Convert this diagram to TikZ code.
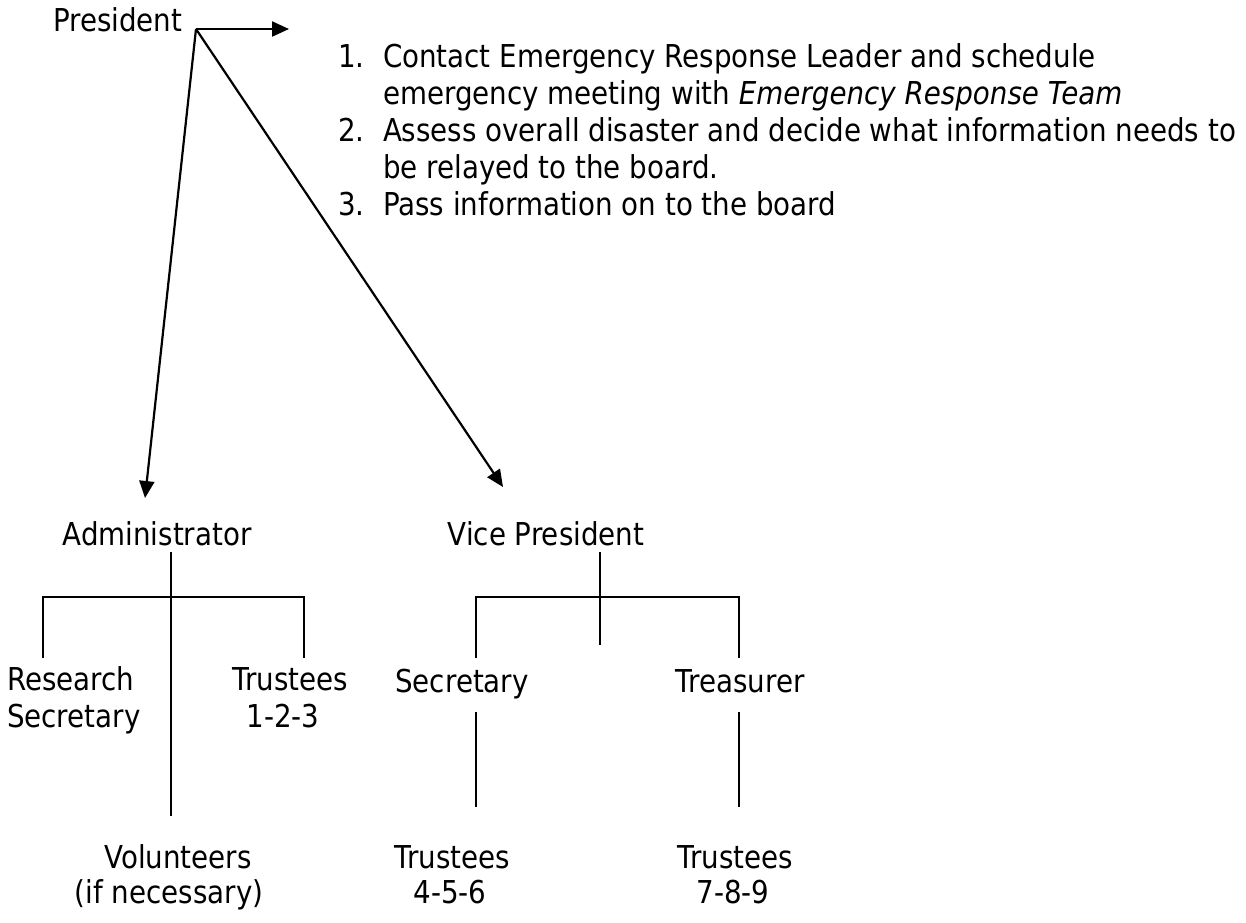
\documentclass[tikz,border=0pt]{standalone}
\usepackage{fontspec}
\setmainfont{DejaVu Sans}[FakeStretch=0.88]
\usetikzlibrary{arrows.meta}
\begin{document}
\begin{tikzpicture}[x=1pt,y=-1pt,
  every node/.style={inner sep=0pt,outer sep=0pt},
  txt/.style={font=\fontsize{31.5}{37}\selectfont,anchor=base west},
  ctxt/.style={font=\fontsize{31.5}{37}\selectfont,anchor=base},
  ln/.style={line width=2.2pt},
  arr/.style={ln,-{Triangle[length=17pt,width=15pt]}}]
\useasboundingbox (0,0) rectangle (1246,922);
% President and arrows
\node[txt] (pres) at (53,31) {President};
\coordinate (pc) at (196,29);
\coordinate (pr) at (289,29);
\coordinate (admtip) at (145,498);
\coordinate (vptip) at (503,487);
\draw[arr] (pc) -- (pr);
\draw[arr] (pc) -- (admtip);
\draw[arr] (pc) -- (vptip);
% list
\node[txt] (n1) at (338,67) {1.};
\node[txt] (t1a) at (383,67) {Contact Emergency Response Leader and schedule};
\node[txt] (t1b) at (383,104) {emergency meeting with \textit{Emergency Response Team}};
\node[txt] (n2) at (338,141) {2.};
\node[txt] (t2a) at (383,141) {Assess overall disaster and decide what information needs to};
\node[txt] (t2b) at (383,178) {be relayed to the board.};
\node[txt] (n3) at (338,215) {3.};
\node[txt] (t3) at (383,215) {Pass information on to the board};
% Administrator branch
\node[ctxt] (admin) at (157,545) {Administrator};
\coordinate (a0) at (171,552);
\coordinate (a1) at (171,597);
\coordinate (a2) at (171,816);
\draw[ln] (a0) -- (a2);
\coordinate (abl) at (43,658);
\coordinate (abr) at (304,658);
\draw[ln] (abl) |- (a1) -| (abr);
\node[txt] (rs1) at (7,690) {Research};
\node[txt] (rs2) at (7,727) {Secretary};
\node[ctxt] (tr1) at (290,690) {Trustees};
\node[ctxt] (tr1n) at (283,727) {1-2-3};
\node[ctxt] (vol) at (178,868) {Volunteers};
\node[ctxt] (volb) at (169,903) {(if necessary)};
% Vice President branch
\node[ctxt] (vp) at (546,545) {Vice President};
\coordinate (v0) at (600,552);
\coordinate (v1) at (600,645);
\draw[ln] (v0) -- (v1);
\coordinate (vbl) at (476,658);
\coordinate (vbr) at (739,658);
\coordinate (vbar) at (600,597);
\draw[ln] (vbl) |- (vbar) -| (vbr);
\node[ctxt] (sec) at (462,692) {Secretary};
\node[ctxt] (tre) at (740,692) {Treasurer};
\coordinate (s0) at (476,712);
\coordinate (s1) at (476,807);
\coordinate (q0) at (739,712);
\coordinate (q1) at (739,807);
\draw[ln] (s0) -- (s1);
\draw[ln] (q0) -- (q1);
\node[ctxt] (tr2) at (452,868) {Trustees};
\node[ctxt] (tr2n) at (450,903) {4-5-6};
\node[ctxt] (tr3) at (735,868) {Trustees};
\node[ctxt] (tr3n) at (733,903) {7-8-9};
\end{tikzpicture}
\end{document}
